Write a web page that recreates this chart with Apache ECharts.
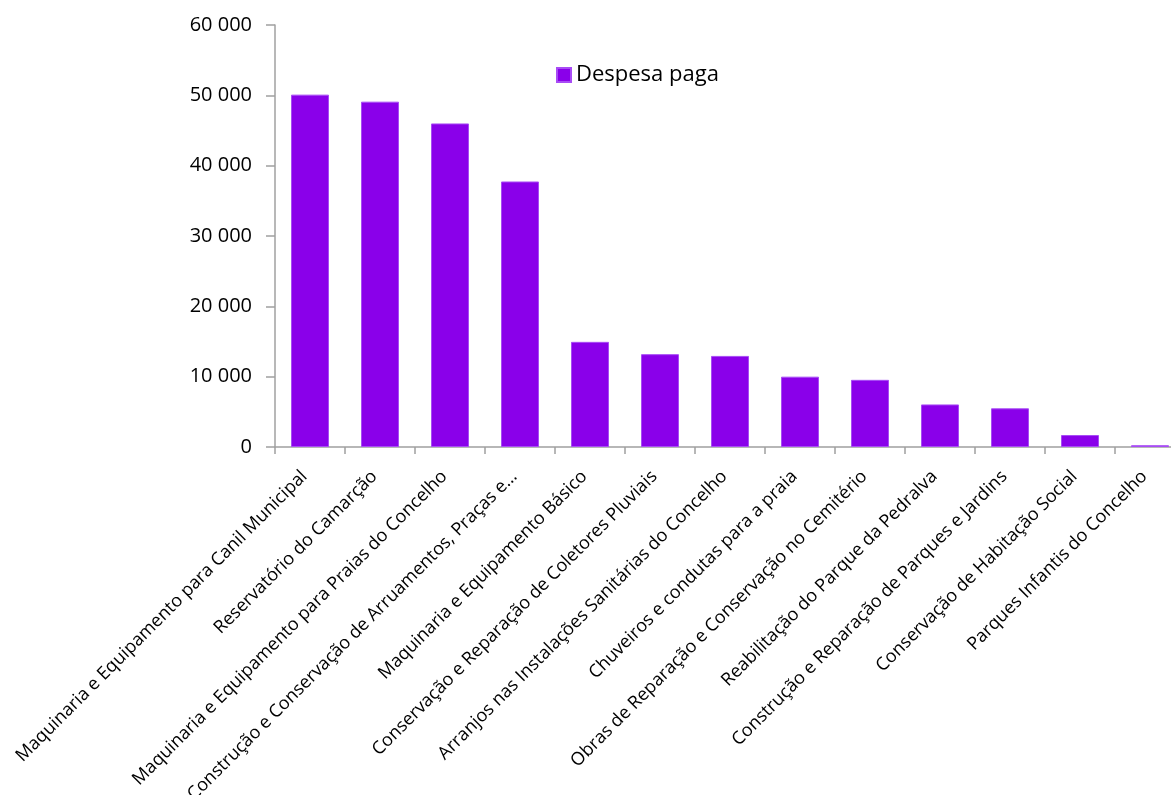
<!DOCTYPE html>
<html>
<head>
<meta charset="utf-8">
<script src="https://cdn.jsdelivr.net/npm/echarts@6/dist/echarts.min.js"></script>
<style>
html,body{margin:0;padding:0;background:#fff;}
#c{width:1171px;height:795px;}
</style>
</head>
<body>
<div id="c"></div>
<script>
const categories = [
  "Maquinaria e Equipamento para Canil Municipal",
  "Reservatório do Camarção",
  "Maquinaria e Equipamento para Praias do Concelho",
  "Construção e Conservação de Arruamentos, Praças e…",
  "Maquinaria e Equipamento Básico",
  "Conservação e Reparação de Coletores Pluviais",
  "Arranjos nas Instalações Sanitárias do Concelho",
  "Chuveiros e condutas para a praia",
  "Obras de Reparação e Conservação no Cemitério",
  "Reabilitação do Parque da Pedralva",
  "Construção e Reparação de Parques e Jardins",
  "Conservação de Habitação Social",
  "Parques Infantis do Concelho"
];
const seriesName = "Despesa paga";
const despesaPaga = [50100, 49100, 46000, 37750, 14950, 13200, 12950, 10000, 9550, 6050, 5500, 1700, 250];
const yTicks = [0, 10000, 20000, 30000, 40000, 50000, 60000];

const fmt = v => String(v).replace(/\B(?=(\d{3})+(?!\d))/g, ' ');
const font = "'Open Sans', 'Noto Sans', sans-serif";
const chart = echarts.init(document.getElementById('c'), null, {renderer: 'canvas'});
chart.setOption({
  animation: false,
  backgroundColor: '#ffffff',
  grid: {left: 275, top: 25, height: 422, width: 910, containLabel: false, outerBoundsMode: 'none'},
  legend: {
    data: [seriesName],
    left: 556, top: 64, padding: 0,
    icon: 'rect', itemWidth: 14, itemHeight: 14, itemGap: 8,
    textStyle: {fontFamily: font, fontSize: 22, color: '#000'}
  },
  xAxis: {
    type: 'category',
    data: categories,
    axisLine: {lineStyle: {color: '#a0a0a0', width: 1.5}},
    axisTick: {show: true, length: 7, lineStyle: {color: '#a0a0a0', width: 1.5}},
    axisLabel: {rotate: 45, interval: 0, margin: 21, padding: [0, 8, 0, 0], fontFamily: font, fontSize: 18, color: '#000'}
  },
  yAxis: {
    type: 'value',
    min: yTicks[0], max: yTicks[yTicks.length - 1], interval: 10000,
    axisLine: {show: true, lineStyle: {color: '#a0a0a0', width: 1.5}},
    axisTick: {show: true, inside: false, length: 9, lineStyle: {color: '#a0a0a0', width: 1.5}},
    splitLine: {show: false},
    axisLabel: {margin: 23, fontFamily: font, fontSize: 20, color: '#000', formatter: v => fmt(v)}
  },
  series: [{
    name: seriesName,
    type: 'bar',
    data: despesaPaga,
    barWidth: 38,
    itemStyle: {color: '#8a00ea', borderColor: '#a84cf5', borderWidth: 1}
  }]
});
</script>
</body>
</html>
